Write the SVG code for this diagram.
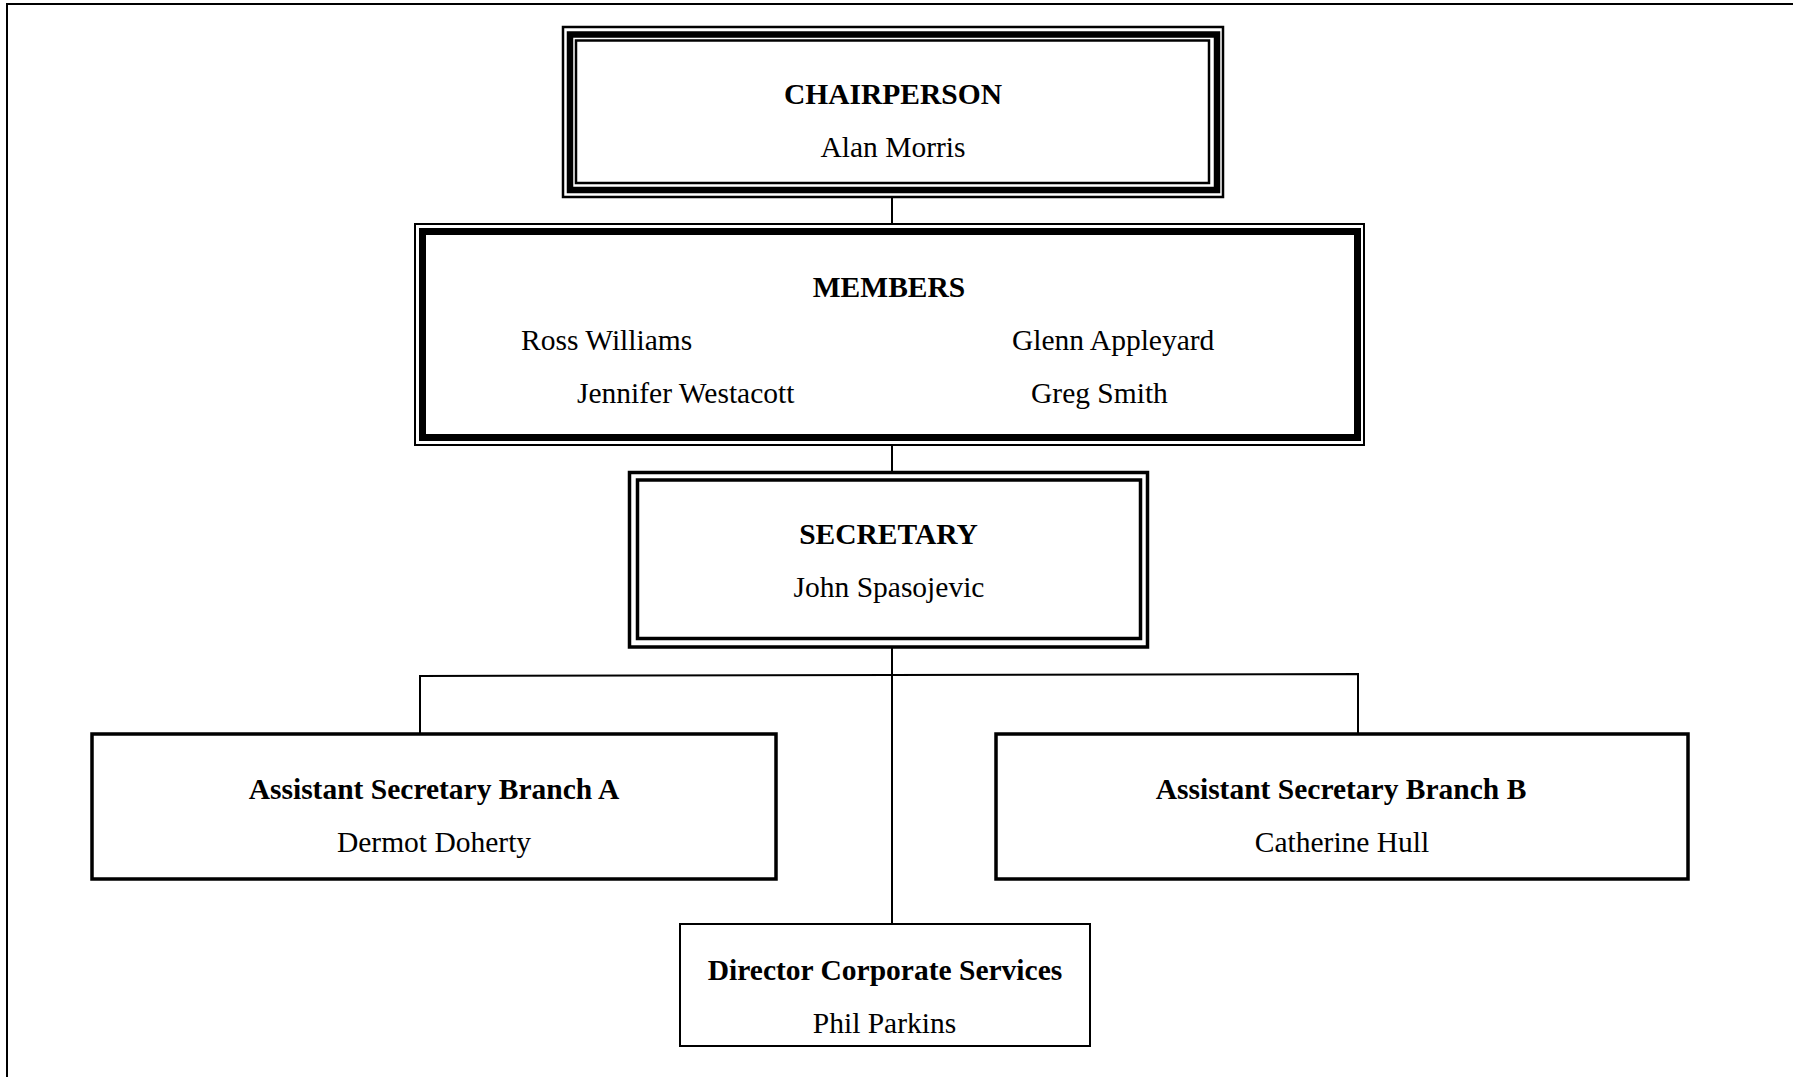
<svg xmlns="http://www.w3.org/2000/svg" width="1793" height="1077" viewBox="0 0 1793 1077">
<style>
rect{fill:none;stroke:#000}
text{font-family:"Liberation Serif","Times New Roman",serif;font-size:29.5px;fill:#000;text-anchor:middle}
.b{font-weight:bold}
.l{text-anchor:start}
.c{stroke:#000;stroke-width:2;fill:none}
</style>
<rect width="1793" height="1077" style="fill:#fff;stroke:none"/>
<rect x="7" y="4" width="1810" height="1100" stroke-width="2"/>
<g id="connectors">
<line class="c" x1="892" y1="198" x2="892" y2="223"/>
<line class="c" x1="892" y1="446" x2="892" y2="471"/>
<line class="c" x1="892" y1="647" x2="892" y2="924"/>
<polyline class="c" points="420,733 420,676 1358,674 1358,733"/>
</g>
<g id="chairperson">
<rect x="563" y="27" width="660" height="170" stroke-width="2.5"/>
<rect x="570" y="34.5" width="647" height="155.5" stroke-width="6.5"/>
<rect x="576" y="40.5" width="633" height="142.5" stroke-width="2.5"/>
<text class="b" x="893" y="104">CHAIRPERSON</text>
<text x="893" y="157">Alan Morris</text>
</g>
<g id="members">
<rect x="415" y="224" width="949" height="221" stroke-width="2"/>
<rect x="422.5" y="231.5" width="935" height="206" stroke-width="7"/>
<text class="b" x="889" y="297">MEMBERS</text>
<text class="l" x="521" y="350">Ross Williams</text>
<text class="l" x="1012" y="350">Glenn Appleyard</text>
<text class="l" x="577" y="403">Jennifer Westacott</text>
<text class="l" x="1031" y="403">Greg Smith</text>
</g>
<g id="secretary">
<rect x="629.5" y="472.5" width="518" height="174.5" stroke-width="3.5"/>
<rect x="637.5" y="480" width="503" height="158.5" stroke-width="3.5"/>
<text class="b" x="888.5" y="544">SECRETARY</text>
<text x="889" y="597">John Spasojevic</text>
</g>
<g id="branch-a">
<rect x="92" y="734" width="684" height="145" stroke-width="3.5"/>
<text class="b" x="434" y="799">Assistant Secretary Branch A</text>
<text x="434" y="852">Dermot Doherty</text>
</g>
<g id="branch-b">
<rect x="996" y="734" width="692" height="145" stroke-width="3.5"/>
<text class="b" x="1341" y="799">Assistant Secretary Branch B</text>
<text x="1342" y="852">Catherine Hull</text>
</g>
<g id="director">
<rect x="680" y="924" width="410" height="122" stroke-width="2"/>
<text class="b" x="885" y="980">Director Corporate Services</text>
<text x="884.5" y="1033">Phil Parkins</text>
</g>
</svg>
